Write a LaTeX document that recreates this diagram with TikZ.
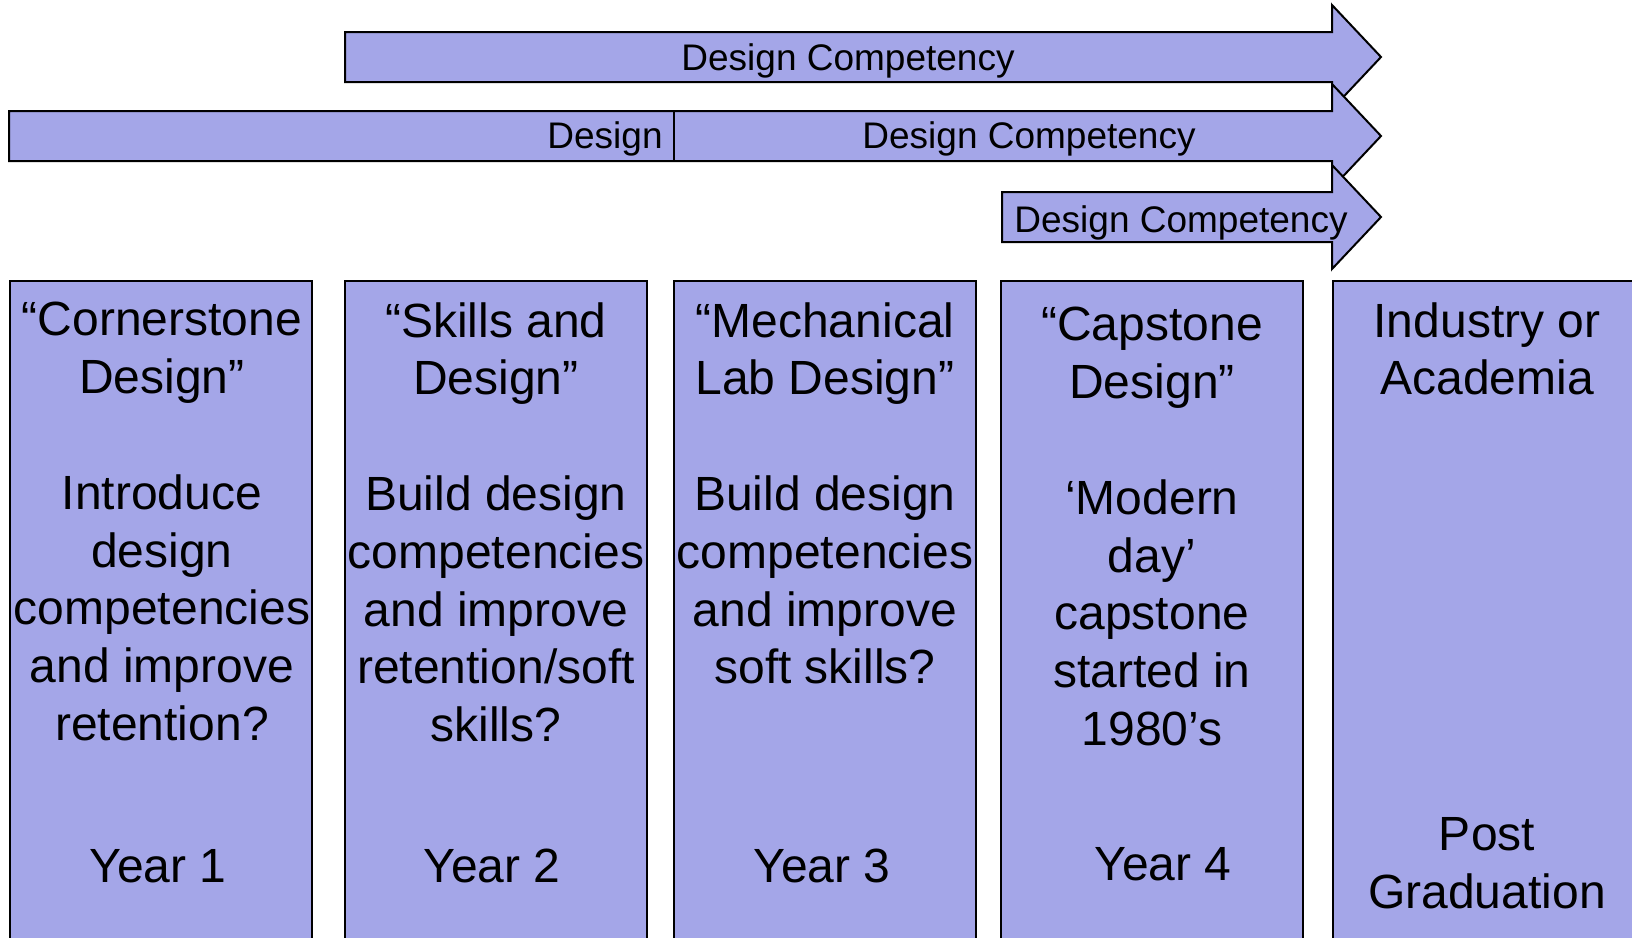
\documentclass[tikz,border=0pt]{standalone}
\usepackage{fontspec}
\setmainfont{Liberation Sans}
\definecolor{lav}{RGB}{164,166,232}

\begin{document}
\begin{tikzpicture}[x=0.5pt,y=-0.5pt,
	bar/.style={fill=lav,draw=black,line width=1pt},
	big/.style={align=center,inner sep=0pt,font=\fontsize{24}{28.9}\selectfont},
	small/.style={inner sep=0pt,font=\fontsize{18.5}{22}\selectfont}]
\useasboundingbox (0,0) rectangle (1632,937);
\clip (0,0) rectangle (1632,937);
% the three arrows
\draw[bar] (345,32) -- (1332,32) -- (1332,5) -- (1381,57) -- (1332,109) -- (1332,82) -- (345,82) -- cycle;
\draw[bar] (9,111) -- (1332,111) -- (1332,84) -- (1381,136) -- (1332,188) -- (1332,161) -- (9,161) -- cycle;
\draw[bar] (1002,192) -- (1332,192) -- (1332,165) -- (1381,217) -- (1332,269) -- (1332,242) -- (1002,242) -- cycle;
\draw[line width=1pt] (674,111) -- (674,161);
\node[small,anchor=base] (dc1) at (848,70) {Design Competency};
\node[small,anchor=base east] (d2) at (663,148) {Design};
\node[small,anchor=base] (dc2) at (1029,148) {Design Competency};
\node[small,anchor=base] (dc3) at (1181,232) {Design Competency};
% the year boxes
\foreach \x in {10,345,674,1001,1333}
	\draw[bar] (\x,281) rectangle ++(302,700);
\node[big,anchor=north] (y1) at (162,302) {“Cornerstone\\Design”\\[28.9pt]Introduce\\design\\competencies\\and improve\\retention?};
\node[big,anchor=north] (y2) at (496,302) {“Skills and\\Design”\\[28.9pt]Build design\\competencies\\and improve\\retention/soft\\skills?};
\node[big,anchor=north] (y3) at (825,302) {“Mechanical\\Lab Design”\\[28.9pt]Build design\\competencies\\and improve\\soft skills?};
\node[big,anchor=north] (y4) at (1152,307) {“Capstone\\Design”\\[28.9pt]‘Modern\\day’\\capstone\\started in\\1980’s};
\node[big,anchor=north] (y5) at (1487,302) {Industry or\\Academia};
\node[big] (yr1) at (158,866) {Year 1};
\node[big] (yr2) at (492,866) {Year 2};
\node[big] (yr3) at (822,866) {Year 3};
\node[big] (yr4) at (1163,864) {Year 4};
\node[big,anchor=north] (pg) at (1487,817) {Post\\Graduation};
\end{tikzpicture}
\end{document}
